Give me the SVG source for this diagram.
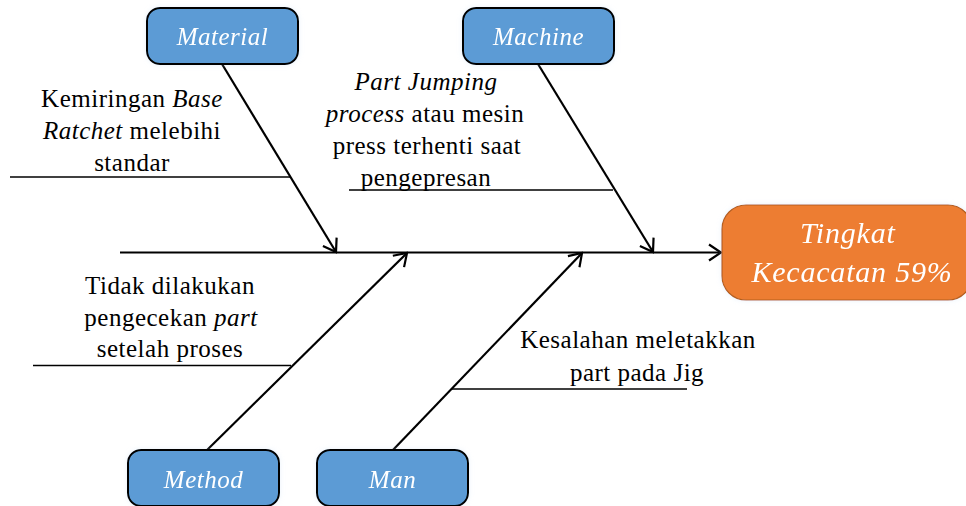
<svg xmlns="http://www.w3.org/2000/svg" width="966" height="506" viewBox="0 0 966 506">
<style>
.cat rect{fill:#5B9BD5;stroke:#000;stroke-width:2}
.cat text{font-family:"Liberation Serif",serif;font-style:italic;font-size:25px;fill:#fff;text-anchor:middle;letter-spacing:0.5px}
.lbl{font-family:"Liberation Serif",serif;font-size:25px;fill:#000;text-anchor:middle;letter-spacing:0.5px}
.i{font-style:italic}
.bone{stroke:#000;stroke-width:2.2;fill:none}
.sub{stroke:#000;stroke-width:1.6;fill:none}
</style>
<defs>
<marker id="arr" markerUnits="userSpaceOnUse" markerWidth="16" markerHeight="20" viewBox="0 0 16 20" refX="14" refY="10" orient="auto">
<path d="M2,2 L14,10 L2,18" fill="none" stroke="#000" stroke-width="2.2"/>
</marker>
<filter id="glow" x="-20%" y="-30%" width="140%" height="160%">
<feGaussianBlur in="SourceAlpha" stdDeviation="2.5"/>
<feColorMatrix values="0 0 0 0 0.55  0 0 0 0 0.7  0 0 0 0 0.9  0 0 0 0.35 0"/>
<feMerge><feMergeNode/><feMergeNode in="SourceGraphic"/></feMerge>
</filter>
</defs>
<g id="connectors">
<line class="bone" x1="120" y1="252.5" x2="721" y2="252.5" marker-end="url(#arr)"/>
<line class="bone" x1="222" y1="64" x2="336" y2="252" marker-end="url(#arr)"/>
<line class="bone" x1="538" y1="64" x2="653" y2="252" marker-end="url(#arr)"/>
<line class="bone" x1="203" y1="454" x2="407" y2="253" marker-end="url(#arr)"/>
<line class="bone" x1="392" y1="451" x2="582" y2="253" marker-end="url(#arr)"/>
<line class="sub" x1="10" y1="177" x2="290" y2="177"/>
<line class="sub" x1="349" y1="190" x2="613" y2="190"/>
<line class="sub" x1="33" y1="365.5" x2="291" y2="365.5"/>
<line class="sub" x1="452" y1="389" x2="687" y2="389"/>
</g>
<g id="material" class="cat" filter="url(#glow)">
<rect x="147" y="8" width="151" height="56" rx="13"/>
<text x="222.5" y="45">Material</text>
</g>
<g id="machine" class="cat" filter="url(#glow)">
<rect x="463" y="8" width="151" height="56" rx="13"/>
<text x="538.5" y="45">Machine</text>
</g>
<g id="method" class="cat" filter="url(#glow)">
<rect x="128" y="450" width="151" height="56" rx="13"/>
<text x="203.5" y="488">Method</text>
</g>
<g id="man" class="cat" filter="url(#glow)">
<rect x="317" y="450" width="151" height="56" rx="13"/>
<text x="392.5" y="488">Man</text>
</g>
<g id="effect" filter="url(#glow)">
<rect x="722" y="205" width="250" height="95" rx="24" fill="#ED7D31" stroke="#B5601F" stroke-width="1.2"/>
<text font-family="Liberation Serif, serif" font-style="italic" font-size="30" fill="#fff" text-anchor="middle" letter-spacing="0.8">
<tspan x="852" y="243">Tingkat</tspan>
<tspan x="852" y="282">Kecacatan 59%</tspan>
</text>
</g>
<g id="cause-material">
<text class="lbl"><tspan x="132" y="107">Kemiringan <tspan class="i">Base</tspan></tspan><tspan x="132" y="139"><tspan class="i">Ratchet</tspan> melebihi</tspan><tspan x="132" y="171">standar</tspan></text>
</g>
<g id="cause-machine">
<text class="lbl"><tspan x="426" y="90" class="i">Part Jumping</tspan><tspan x="425" y="122"><tspan class="i">process</tspan> atau mesin</tspan><tspan x="427" y="154">press terhenti saat</tspan><tspan x="426" y="186">pengepresan</tspan></text>
</g>
<g id="cause-method">
<text class="lbl"><tspan x="170" y="294">Tidak dilakukan</tspan><tspan x="171" y="326">pengecekan <tspan class="i">part</tspan></tspan><tspan x="170" y="357">setelah proses</tspan></text>
</g>
<g id="cause-man">
<text class="lbl"><tspan x="638" y="348">Kesalahan meletakkan</tspan><tspan x="637" y="381">part pada Jig</tspan></text>
</g>
</svg>
